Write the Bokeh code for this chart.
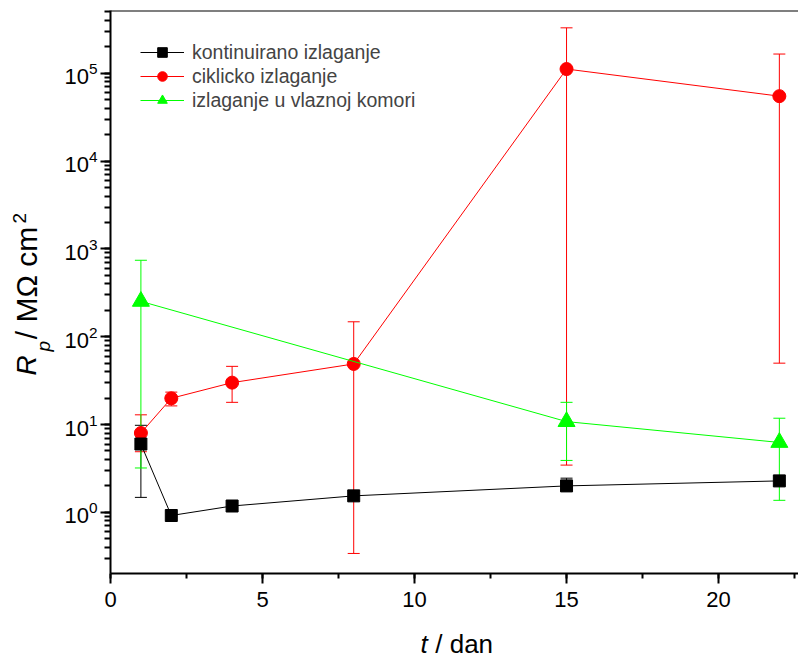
import math
from bokeh.plotting import figure
from bokeh.layouts import row, column
from bokeh.models import (ColumnDataSource, Whisker, TeeHead, Legend, LegendItem,
                          SingleIntervalTicker, LogTicker, Span, Range1d)
from bokeh.core.properties import value
from bokeh.embed import file_html
from bokeh.resources import INLINE

# ---- data ----
t_cont = [1, 2, 4, 8, 15, 22]
r_cont = [6.0, 0.92, 1.18, 1.54, 2.0, 2.28]
r_cont_hi = [9.8, 0.92, 1.18, 1.54, 2.45, 2.28]
r_cont_lo = [1.48, 0.92, 1.18, 1.54, 1.75, 2.28]

t_cyc = [1, 2, 4, 8, 15, 22]
r_cyc = [8.0, 19.9, 30.0, 49.0, 1.12e5, 5.5e4]
r_cyc_hi = [12.9, 23.4, 46.0, 148.0, 3.3e5, 1.66e5]
r_cyc_lo = [4.9, 16.3, 17.9, 0.34, 3.45, 50.0]

t_hum = [1, 15, 22]
r_hum = [253.0, 10.8, 6.25]
r_hum_hi = [743.0, 17.9, 11.8]
r_hum_lo = [3.2, 3.9, 1.37]

series_names = ["kontinuirano izlaganje", "ciklicko izlaganje", "izlaganje u vlaznoj komori"]
x_lim = (0, 22.63)
y_lim = (0.201, 5.2e5)

FONT = "Liberation Sans"
LEFT_W = 60
MAIN_W = 738
MAIN_H = 620
BOT_H = 39
TOTAL_H = MAIN_H + BOT_H
FRAME_L = 110  # page x of the plot frame's left edge

p = figure(width=MAIN_W, height=MAIN_H, x_range=x_lim, y_range=y_lim, y_axis_type="log",
           output_backend="svg", toolbar_location=None,
           min_border_left=FRAME_L - LEFT_W, min_border_right=0, min_border_top=10,
           min_border_bottom=47)
p.outline_line_color = None
p.grid.visible = False

p.xaxis.ticker = SingleIntervalTicker(interval=5, num_minor_ticks=2)
p.yaxis.ticker = LogTicker(num_minor_ticks=10)
for ax in (p.xaxis, p.yaxis):
    ax.axis_line_width = 2
    ax.axis_line_color = "black"
    ax.major_tick_line_width = 2
    ax.minor_tick_line_width = 2
    ax.major_tick_in = 0
    ax.minor_tick_in = 0
    ax.major_label_text_font = FONT
    ax.major_label_text_font_size = "22px"
    ax.major_label_text_color = "black"
p.xaxis.major_tick_out = 10
p.xaxis.minor_tick_out = 5
p.xaxis.major_label_standoff = 8
p.yaxis.major_tick_out = 10
p.yaxis.minor_tick_out = 6
p.yaxis.major_label_standoff = 3

# top border of the frame
p.add_layout(Span(location=y_lim[1], dimension="width", line_color="black", line_width=2))

def add_series(t, r, lo, hi, color, marker, size):
    src = ColumnDataSource(dict(x=t, y=r))
    ln = p.line("x", "y", source=src, line_color=color, line_width=1)
    idx = [i for i in range(len(t)) if hi[i] != r[i] or lo[i] != r[i]]
    esrc = ColumnDataSource(dict(x=[t[i] for i in idx], lo=[lo[i] for i in idx], hi=[hi[i] for i in idx]))
    w = Whisker(base="x", lower="lo", upper="hi", source=esrc, dimension="height",
                line_color=color, line_width=1,
                upper_head=TeeHead(size=12, line_color=color, line_width=1),
                lower_head=TeeHead(size=12, line_color=color, line_width=1))
    p.add_layout(w)
    sc = p.scatter("x", "y", source=src, marker=marker, size=size, fill_color=color, line_color=color)
    return ln, sc

red = add_series(t_cyc, r_cyc, r_cyc_lo, r_cyc_hi, "#FF0000", "circle", 13)
blk = add_series(t_cont, r_cont, r_cont_lo, r_cont_hi, "#000000", "square", 12)
grn = add_series(t_hum, r_hum, r_hum_lo, r_hum_hi, "#00FF00", "triangle", 17)

legend = Legend(items=[LegendItem(label=series_names[0], renderers=list(blk)),
                       LegendItem(label=series_names[1], renderers=list(red)),
                       LegendItem(label=series_names[2], renderers=list(grn))],
                location="top_left", margin=30, padding=0, spacing=0,
                glyph_width=44, glyph_height=24, label_height=24, label_standoff=8,
                label_text_font=FONT, label_text_font_size="19.5px",
                border_line_color=None, background_fill_alpha=0)
p.add_layout(legend)

# ---- axis titles as text in helper panels (coordinates = page pixels) ----
def blank(width, height, xr, yr):
    f = figure(width=width, height=height, x_range=Range1d(*xr), y_range=Range1d(*yr),
               output_backend="svg", toolbar_location=None, title=None,
               min_border=0, min_border_left=0, min_border_right=0,
               min_border_top=0, min_border_bottom=0,
               x_axis_location=None, y_axis_location=None)
    f.outline_line_color = None
    f.grid.visible = False
    return f

fy = blank(LEFT_W, TOTAL_H, (0, LEFT_W), (TOTAL_H, 0))
# the column aligns this panel's frame with the main frame (starts at FRAME_L)
fx = blank(MAIN_W, BOT_H, (FRAME_L, LEFT_W + MAIN_W), (TOTAL_H, MAIN_H))

def txt(f, x, y, s, size, style="normal", angle=0.0):
    f.text(x=[x], y=[y], text=[s], text_font=value(FONT), text_font_size=size,
           text_font_style=style, text_color="black", angle=angle,
           text_align="left", text_baseline="alphabetic")

NB = "\u00a0"
a = math.pi / 2
txt(fy, 25.5, 375, "R", "28px", "italic", a)
txt(fy, 43, 351, "p", "19px", "italic", a)
txt(fy, 25.5, 347, NB + "/ M\u03a9 cm", "30px", "normal", a)
txt(fy, 19, 223, "2", "19px", "normal", a)

txt(fx, 420, 643, "t", "26px", "italic")
txt(fx, 427.5, 643, NB + "/ dan", "26px")

layout = row(fy, column(p, fx))
open("out.html", "w").write(file_html(layout, INLINE))
